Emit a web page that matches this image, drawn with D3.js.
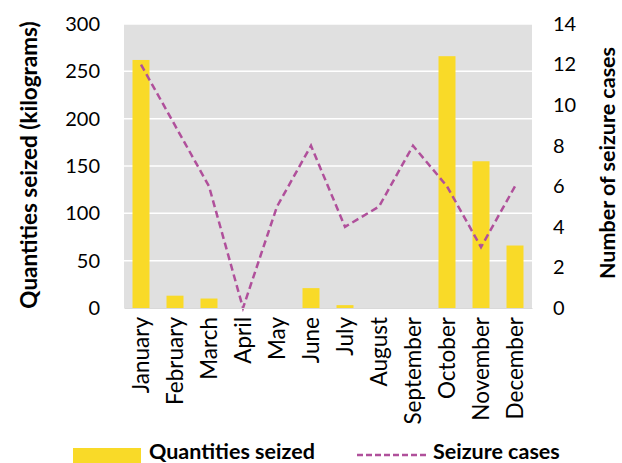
<!DOCTYPE html>
<html><head><meta charset="utf-8">
<script src="https://cdn.jsdelivr.net/npm/d3@7"></script>
<style>body{margin:0;background:#fff}svg{display:block}text{font-family:Lato,"Open Sans",sans-serif;fill:#000}</style>
</head><body><svg id="c" width="622" height="463"></svg>
<script>
const months = ["January","February","March","April","May","June","July","August","September","October","November","December"];
const quantities = [262, 13, 10, 0, 0, 21, 3, 0, 0, 266, 155, 66];
const cases = [12, 9, 6, 0, 5, 8, 4, 5, 8, 6, 3, 6];
const leftTicks = [0, 50, 100, 150, 200, 250, 300];
const rightTicks = [0, 2, 4, 6, 8, 10, 12, 14];

const svg = d3.select("#c");
const L = 124, R = 532, T = 24, B = 308;
const x = d3.scaleBand().domain(months).range([L, R]).paddingInner(0.5).paddingOuter(0.25);
const xc = d3.scaleBand().domain(months).range([L, R]);
const yL = d3.scaleLinear().domain([0, 300]).range([B, T]);
const yR = d3.scaleLinear().domain([0, 14]).range([B, T]);

svg.append("rect").attr("x", L).attr("y", T).attr("width", R - L).attr("height", B - T).attr("fill", "#e0e0e0");
svg.append("g").selectAll("line").data(leftTicks.slice(1)).join("line")
  .attr("x1", L).attr("x2", R).attr("y1", d => yL(d)).attr("y2", d => yL(d))
  .attr("stroke", "#fff").attr("stroke-width", 1.5);

svg.append("g").selectAll("rect").data(quantities).join("rect")
  .attr("x", (d, i) => x(months[i])).attr("width", x.bandwidth())
  .attr("y", d => yL(d)).attr("height", d => B - yL(d)).attr("fill", "#f9da28");

const line = d3.line().x((d, i) => xc(months[i]) + xc.bandwidth() / 2).y(d => yR(d));
svg.append("path").datum(cases).attr("d", line).attr("fill", "none")
  .attr("stroke", "#b0509b").attr("stroke-width", 2.5).attr("stroke-dasharray", "7,4");

const axL = d3.axisLeft(yL).tickValues(leftTicks).tickSize(0).tickPadding(24);
const gL = svg.append("g").attr("transform", `translate(${L},0)`).call(axL);
gL.select(".domain").remove();
gL.selectAll("text").style("font-size", "20px").style("font-family", "Lato");

const axR = d3.axisRight(yR).tickValues(rightTicks).tickSize(0).tickPadding(21);
const gR = svg.append("g").attr("transform", `translate(${R},0)`).call(axR);
gR.select(".domain").remove();
gR.selectAll("text").style("font-size", "20px").style("font-family", "Lato");

const axB = d3.axisBottom(xc).tickSize(0).tickPadding(0);
const gB = svg.append("g").attr("transform", `translate(0,${B})`).call(axB);
gB.select(".domain").attr("stroke", "#d9d9d9");
gB.selectAll("text").style("font-size", "22.5px").style("font-family", "Lato")
  .attr("text-anchor", "end").attr("dy", null)
  .attr("transform", "translate(8,9) rotate(-90)");

svg.append("text").attr("transform", "translate(37,165) rotate(-90)").attr("text-anchor", "middle")
  .style("font-size", "22.5px").style("font-weight", "bold").text("Quantities seized (kilograms)");
svg.append("text").attr("transform", "translate(615,163) rotate(-90)").attr("text-anchor", "middle")
  .style("font-size", "21.5px").style("font-weight", "bold").text("Number of seizure cases");

const leg = svg.append("g");
leg.append("rect").attr("x", 73).attr("y", 448).attr("width", 68).attr("height", 15).attr("fill", "#f9da28");
leg.append("text").attr("x", 149).attr("y", 459).style("font-size", "21.5px").style("font-weight", "bold").text("Quantities seized");
leg.append("line").attr("x1", 357).attr("x2", 427).attr("y1", 455).attr("y2", 455)
  .attr("stroke", "#b0509b").attr("stroke-width", 2.5).attr("stroke-dasharray", "6,3");
leg.append("text").attr("x", 433).attr("y", 459).style("font-size", "21.5px").style("font-weight", "bold").text("Seizure cases");
</script></body></html>
